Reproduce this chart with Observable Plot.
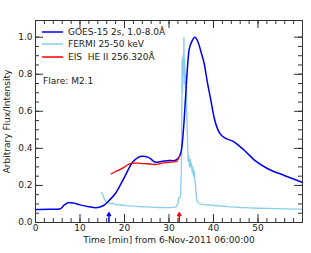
<!DOCTYPE html>
<html>
<head>
<meta charset="utf-8">
<script src="https://cdn.jsdelivr.net/npm/d3@7"></script>
<script src="https://cdn.jsdelivr.net/npm/@observablehq/plot@0.6"></script>
<style>
  html, body { margin: 0; padding: 0; background: #fff; }
</style>
</head>
<body>
<div id="chart"></div>
<script>
// GOES-15 2s, 1.0-8.0 Å
const goesT = [0, 3, 5.5, 6.5, 7.5, 8.5, 10, 12, 13.5, 14.5, 15.5, 16.5, 18, 20, 21.8, 23, 24, 25.5, 27, 28.5, 30, 31, 32, 32.7, 33, 33.4, 34, 34.5, 35.2, 35.8, 36.5, 37.2, 37.9, 38.6, 39.4, 40.2, 41, 42, 44.7, 46.9, 49.2, 52.2, 55.9, 60];
const goesV = [0.070, 0.071, 0.073, 0.095, 0.108, 0.105, 0.095, 0.085, 0.080, 0.084, 0.095, 0.118, 0.158, 0.245, 0.325, 0.350, 0.357, 0.350, 0.325, 0.330, 0.335, 0.333, 0.345, 0.380, 0.430, 0.550, 0.785, 0.930, 0.980, 1.000, 0.975, 0.920, 0.858, 0.760, 0.660, 0.560, 0.500, 0.465, 0.434, 0.390, 0.337, 0.290, 0.254, 0.216];

// FERMI 25-50 keV
const fermiT = [14.8, 15.1, 15.4, 15.8, 16.2, 16.6, 17.0, 17.5, 18.0, 18.5, 19.0, 19.6, 20.2, 21.0, 22.0, 23.0, 24.0, 25.0, 26.0, 27.0, 28.0, 29.0, 30.0, 31.0, 31.6, 32.0, 32.2, 32.4, 32.6, 32.8, 32.95, 33.05, 33.15, 33.25, 33.35, 33.45, 33.55, 33.7, 33.85, 34.0, 34.15, 34.3, 34.45, 34.6, 34.75, 34.9, 35.05, 35.2, 35.35, 35.5, 35.65, 35.8, 35.95, 36.1, 36.3, 36.6, 37.0, 37.5, 38.0, 38.5, 39.0, 39.5, 40.0, 40.5, 41.0, 41.5, 42.0, 43.0, 44.0, 45.0, 46.0, 47.0, 48.0, 50.0, 52.0, 54.0, 56.0, 58.0, 60.0];
const fermiV = [0.162, 0.150, 0.130, 0.112, 0.108, 0.104, 0.100, 0.103, 0.096, 0.098, 0.093, 0.095, 0.091, 0.090, 0.088, 0.087, 0.085, 0.084, 0.083, 0.082, 0.081, 0.080, 0.080, 0.082, 0.085, 0.100, 0.135, 0.130, 0.145, 0.300, 0.880, 0.700, 0.900, 0.800, 1.000, 0.750, 0.880, 0.720, 0.800, 0.600, 0.450, 0.330, 0.360, 0.300, 0.340, 0.300, 0.320, 0.270, 0.300, 0.250, 0.280, 0.230, 0.200, 0.150, 0.115, 0.105, 0.100, 0.098, 0.097, 0.094, 0.096, 0.092, 0.094, 0.089, 0.092, 0.088, 0.089, 0.086, 0.084, 0.083, 0.081, 0.080, 0.079, 0.077, 0.076, 0.075, 0.074, 0.072, 0.072];

// EIS He II 256.320 Å
const eisT = [17, 18, 19, 20, 21, 22, 23, 24, 25, 26, 27, 28, 29, 30, 31, 31.7, 32.3];
const eisV = [0.262, 0.275, 0.285, 0.300, 0.315, 0.320, 0.320, 0.318, 0.317, 0.315, 0.313, 0.318, 0.322, 0.325, 0.327, 0.330, 0.355];

// arrows
const arrowT = [16.5, 32.3];
const arrowColor = ["#0000ee", "#ff0000"];

// ticks
const xMajor = [0, 10, 20, 30, 40, 50, 60];
const xLabels = [0, 10, 20, 30, 40, 50];
const xMinor = d3.range(0, 61, 2);
const yMajor = [0, 0.2, 0.4, 0.6, 0.8, 1.0];
const yMinor = d3.range(0, 21).map(i => i * 0.05);

const seriesNames = ["GOES-15 2s, 1.0-8.0Å", "FERMI 25-50 keV", "EIS  HE II 256.320Å"];
const seriesColors = ["#0000ee", "#87ceeb", "#ff0000"];

const goes = goesT.map((t, i) => ({t, v: goesV[i]}));
const fermi = fermiT.map((t, i) => ({t, v: fermiV[i]}));
const eis = eisT.map((t, i) => ({t, v: eisV[i]}));
const arrows = arrowT.map((t, i) => ({t, c: arrowColor[i]}));

const ink = "#333";
const W = 311, H = 253, mL = 35, mR = 9, mT = 20, mB = 31;
const fw = W - mL - mR, fh = H - mT - mB;
const minorLen = 4, majorLen = 8;

const svg = Plot.plot({
  width: W,
  height: H,
  marginLeft: mL,
  marginRight: mR,
  marginTop: mT,
  marginBottom: mB,
  style: {fontFamily: "DejaVu Sans", fontSize: "9px", color: "#222", background: "#fff"},
  x: {domain: [0, 60]},
  y: {domain: [0, 1.09]},
  marks: [
    Plot.line(fermi, {x: "t", y: "v", stroke: seriesColors[1], strokeWidth: 1.3}),
    Plot.line(goes, {x: "t", y: "v", stroke: seriesColors[0], strokeWidth: 1.5, curve: "monotone-x"}),
    Plot.line(eis, {x: "t", y: "v", stroke: seriesColors[2], strokeWidth: 1.3, curve: "monotone-x"}),
    Plot.arrow(arrows, {x1: "t", x2: "t", y1: 0, y2: 0.052, stroke: "c", strokeWidth: 1.5, headLength: 5}),
    // inward ticks: minor
    Plot.ruleX(xMinor, {x: d => d, insetTop: fh - minorLen, stroke: ink}),
    Plot.ruleX(xMinor, {x: d => d, insetBottom: fh - minorLen, stroke: ink}),
    Plot.ruleY(yMinor, {y: d => d, insetRight: fw - minorLen, stroke: ink}),
    Plot.ruleY(yMinor, {y: d => d, insetLeft: fw - minorLen, stroke: ink}),
    // inward ticks: major
    Plot.ruleX(xMajor, {x: d => d, insetTop: fh - majorLen, stroke: ink}),
    Plot.ruleX(xMajor, {x: d => d, insetBottom: fh - majorLen, stroke: ink}),
    Plot.ruleY(yMajor, {y: d => d, insetRight: fw - majorLen, stroke: ink}),
    Plot.ruleY(yMajor, {y: d => d, insetLeft: fw - majorLen, stroke: ink}),
    // labels
    Plot.axisX({anchor: "bottom", ticks: xLabels, tickSize: 0, tickPadding: 2, tickFormat: d => String(d),
      label: "Time [min] from 6-Nov-2011 06:00:00", labelAnchor: "center", labelArrow: "none", labelOffset: 20}),
    Plot.axisY({anchor: "left", ticks: yMajor, tickSize: 0, tickPadding: 3, tickFormat: d3.format(".1f"),
      label: "Arbitrary Flux/Intensity", labelAnchor: "center", labelArrow: "none", labelOffset: 32}),
    Plot.frame({stroke: ink})
  ]
});

// legend overlay
const g = d3.select(svg).append("g")
  .attr("font-family", "DejaVu Sans").attr("font-size", 9).attr("fill", "#222").attr("text-anchor", "start");
const legendY = [32, 44, 57];
seriesNames.forEach((name, i) => {
  g.append("line").attr("x1", 42).attr("x2", 63).attr("y1", legendY[i]).attr("y2", legendY[i])
    .attr("stroke", seriesColors[i]).attr("stroke-width", 1.5);
  g.append("text").attr("x", 68).attr("y", legendY[i] + 3.3).text(name);
});
g.append("text").attr("x", 43).attr("y", 83.5).text("Flare: M2.1");

document.getElementById("chart").appendChild(svg);
</script>
</body>
</html>
